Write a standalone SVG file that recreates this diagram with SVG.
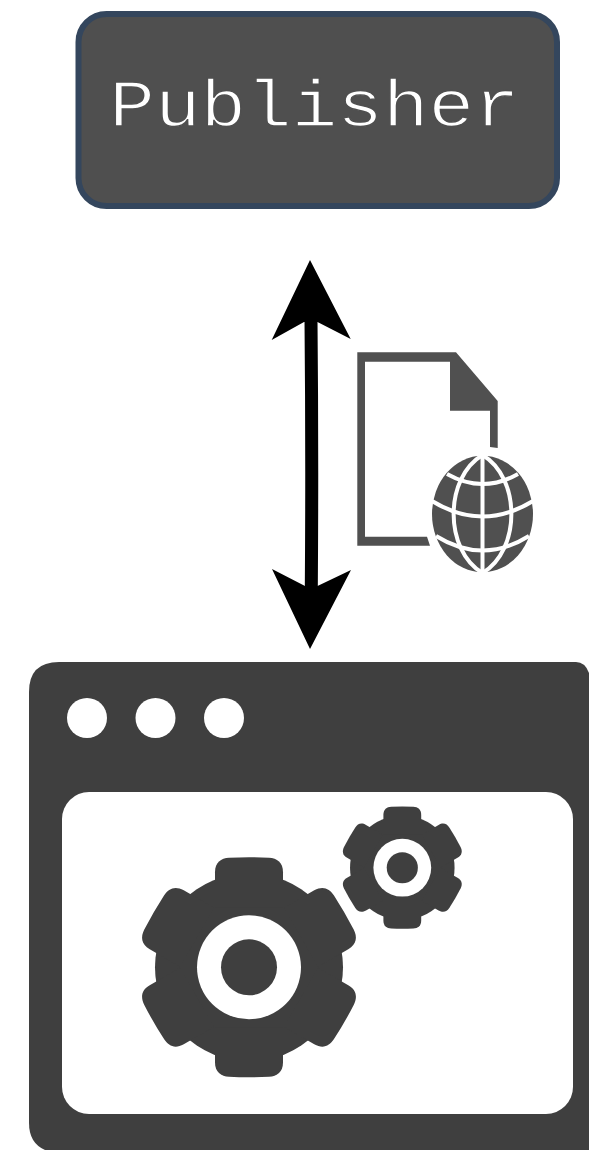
<svg xmlns="http://www.w3.org/2000/svg" width="589" height="1150" viewBox="0 0 589 1150">
<style>
.doc{fill:#505050}
.dark{fill:#3f3f3f}
.w{fill:#fff}
.gl{fill:none;stroke:#fff;stroke-width:4}
.head{fill:#000}
</style>
<defs>
<path id="tooth" d="M-34 -60V-95C-34 -105 -28 -109 -20 -109.500Q0 -110.500 20 -109.500C28 -109 34 -105 34 -95V-60Z"/>
<g id="gear">
<circle r="94"/>
<use href="#tooth"/>
<use href="#tooth" transform="rotate(60)"/>
<use href="#tooth" transform="rotate(120)"/>
<use href="#tooth" transform="rotate(180)"/>
<use href="#tooth" transform="rotate(240)"/>
<use href="#tooth" transform="rotate(300)"/>
<circle r="52" class="w"/>
<circle r="28"/>
</g>
</defs>
<rect width="589" height="1150" fill="#fff"/>
<g id="publisher">
<rect x="78.500" y="14" width="478.500" height="192" rx="28" fill="#4f4f4f" stroke="#34465d" stroke-width="6"/>
<text transform="translate(314.500 126) scale(1 .88)" text-anchor="middle" font-family="'Liberation Mono',monospace" font-size="76" fill="#fff" stroke="#4f4f4f" stroke-width="1.600">Publisher</text>
</g>
<g id="connectors">
<path d="M311 320Q312.300 455 311.300 590" fill="none" stroke="#000" stroke-width="13"/>
<path class="head" d="M310 260L350.700 339L317.500 322H304L271.700 340Z"/>
<path class="head" d="M310 649L351 570L317.500 586H305L272 569Z"/>
</g>
<g id="document">
<path class="doc" fill-rule="evenodd" d="M357.300 352.300H456L497.700 401V448L490 447V410.700H450V361.700H365V536.700H427L430 545.700H357.300Z"/>
<ellipse class="doc" cx="482.500" cy="514" rx="50.500" ry="58.300"/>
<path class="gl" d="M482.500 455V573"/>
<path class="gl" d="M482.500 455C444 478 444 550 482.500 573C521 550 521 478 482.500 455Z"/>
<path class="gl" d="M447 474Q482.500 494 518 474M432 501Q482.500 532 533 501M436 536Q482.500 565 529 536"/>
</g>
<g id="window">
<path class="dark" d="M59 662H576Q585 662 589 673V1150H45Q29 1143 29 1123V692Q29 662 59 662Z"/>
<circle class="w" cx="87" cy="718" r="20"/>
<circle class="w" cx="155.500" cy="718" r="20"/>
<circle class="w" cx="224" cy="718" r="20"/>
<rect class="w" x="62" y="792" width="511" height="322" rx="27"/>
<use href="#gear" class="dark" transform="translate(249 967.300)"/>
<use href="#gear" class="dark" transform="translate(402.300 867.700) scale(.556)"/>
</g>
</svg>
